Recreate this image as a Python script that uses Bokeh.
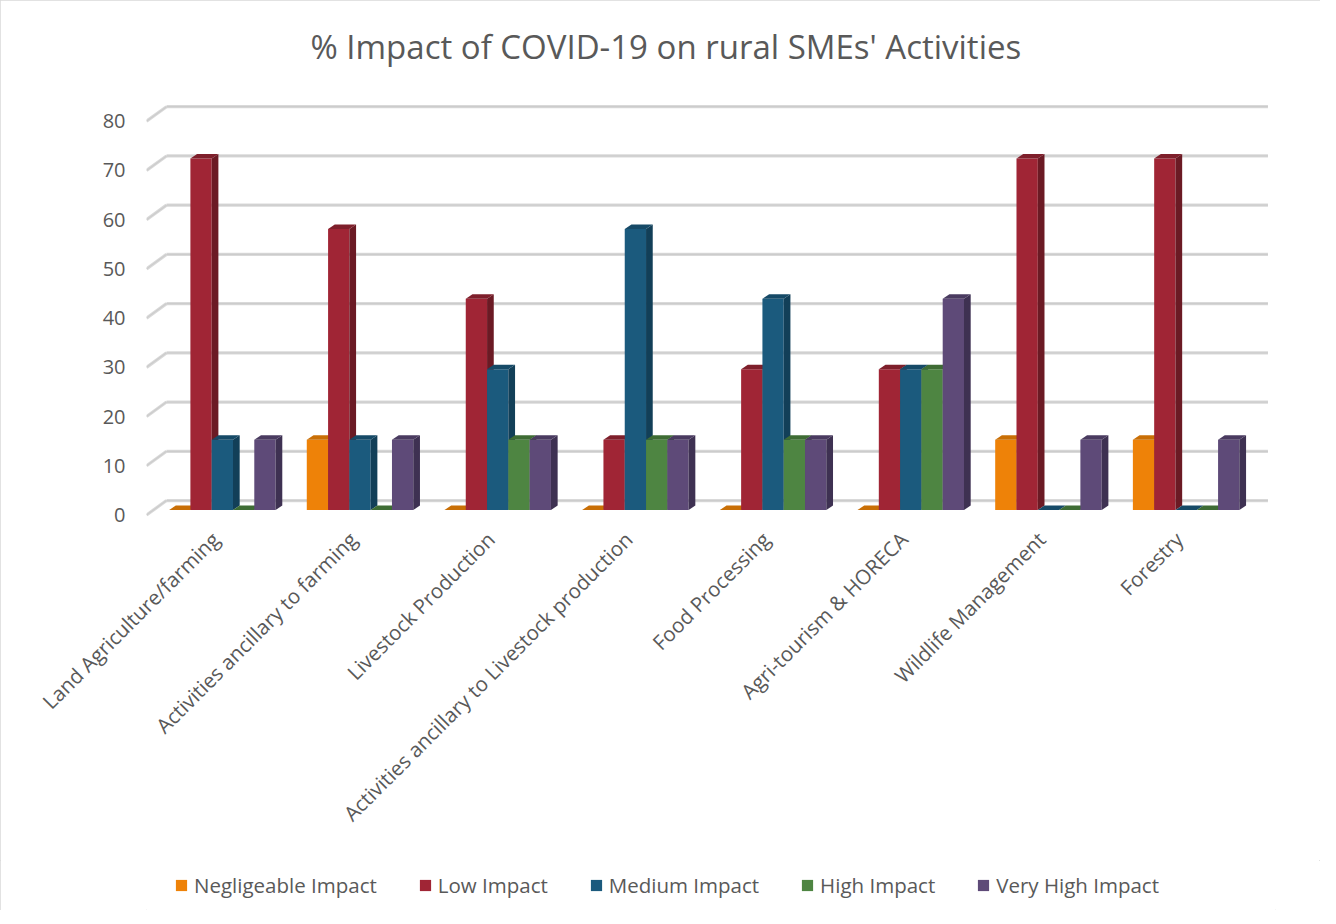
import math
from bokeh.plotting import figure
from bokeh.layouts import column
from bokeh.models import ColumnDataSource, FixedTicker, Legend, LegendItem, Range1d
from bokeh.embed import file_html
from bokeh.resources import INLINE

# ---------------- data ----------------
categories = [
    "Land Agriculture/farming",
    "Activities ancillary to farming",
    "Livestock Production",
    "Activities ancillary to Livestock production",
    "Food Processing",
    "Agri-tourism & HORECA",
    "Wildlife Management",
    "Forestry",
]
series_names = ["Negligeable Impact", "Low Impact", "Medium Impact", "High Impact", "Very High Impact"]
negligeable = [0, 14.3, 0, 0, 0, 0, 14.3, 14.3]
low = [71.4, 57.1, 42.9, 14.3, 28.6, 28.6, 71.4, 71.4]
medium = [14.3, 14.3, 28.6, 57.1, 42.9, 28.6, 0, 0]
high = [0, 0, 14.3, 14.3, 14.3, 28.6, 0, 0]
very_high = [14.3, 14.3, 14.3, 14.3, 14.3, 42.9, 14.3, 14.3]
y_ticks = [0, 10, 20, 30, 40, 50, 60, 70, 80]
title_text = "% Impact of COVID-19 on rural SMEs' Activities"

series_values = [negligeable, low, medium, high, very_high]
front_colors = ["#EE8208", "#A02535", "#1B5A7D", "#4E8542", "#5E4A78"]
side_colors = ["#B86306", "#6B1A24", "#123F58", "#35602C", "#3E3152"]
top_colors = ["#C96F06", "#7E1F2B", "#164A67", "#3E6C34", "#4A3B60"]

# ---------------- geometry (pixel -> data conversions) ----------------
PX_PER_CAT = 137.7
PX_PER_UNIT = 4.92
PX = 1.0 / PX_PER_CAT
PY = 1.0 / PX_PER_UNIT
BX, BY = 7 * PX, 5 * PY        # bar plane offset from front wall
DX, DY = 6.7 * PX, 4.5 * PY    # bar depth
GX, GY = 20 * PX, 14.5 * PY    # back wall offset
BW = 21.3 * PX                 # bar width
n_s = len(series_names)

W = 1320
H_MAIN, H_LEG = 860, 50
LEFT = 146
TOP = 88
X_START, X_END = 0.0, 8.2
Y_START = -0.5
Y_END = 84.0 + 13 / PX_PER_UNIT
frame_w = (X_END - X_START) * PX_PER_CAT
RIGHT = int(round(W - LEFT - frame_w))
frame_h = (Y_END - Y_START) * PX_PER_UNIT
BOTTOM = int(round(H_MAIN - TOP - frame_h))

p = figure(width=W, height=H_MAIN, output_backend="svg", toolbar_location=None,
           x_range=Range1d(X_START, X_END), y_range=Range1d(Y_START, Y_END),
           min_border_left=LEFT, min_border_right=RIGHT, min_border_top=TOP,
           min_border_bottom=BOTTOM)
p.outline_line_color = None
p.xgrid.visible = False
p.ygrid.visible = False
p.background_fill_color = "white"
p.border_fill_color = "white"

FONT = "Open Sans"
TXT = "#595959"

# title
p.title.text = title_text
p.title.align = "left"
p.title.text_font = FONT
p.title.text_font_size = "33px"
p.title.text_font_style = "normal"
p.title.text_color = TXT
p.title.standoff = 40
p.title.offset = 164

# gridlines (back wall + left diagonals)
n_cat = len(categories)
back_xs = [[GX, n_cat + GX] for _ in y_ticks]
back_ys = [[t + GY, t + GY] for t in y_ticks]
diag_xs = [[0, GX] for _ in y_ticks]
diag_ys = [[t, t + GY] for t in y_ticks]
p.multi_line(xs=back_xs + diag_xs, ys=back_ys + diag_ys, line_color="#D9D9D9", line_width=3.2)
p.multi_line(xs=back_xs + diag_xs, ys=back_ys + diag_ys, line_color="#CCCCCC", line_width=1.2)

# bars
for j, (name, vals) in enumerate(zip(series_names, series_values)):
    x0s, x1s, y0s, y1s = [], [], [], []
    side_xs, side_ys, top_xs, top_ys = [], [], [], []
    for i, v in enumerate(vals):
        x0 = i + 0.5 - n_s * BW / 2 + j * BW + BX
        x1 = x0 + BW
        y0 = BY
        y1 = v + BY
        x0s.append(x0); x1s.append(x1); y0s.append(y0); y1s.append(y1)
        side_xs.append([x1, x1 + DX, x1 + DX, x1])
        side_ys.append([y0, y0 + DY, y1 + DY, y1])
        top_xs.append([x0, x1, x1 + DX, x0 + DX])
        top_ys.append([y1, y1, y1 + DY, y1 + DY])
    src = ColumnDataSource(dict(left=x0s, right=x1s, bottom=y0s, top=y1s))
    p.quad(left="left", right="right", bottom="bottom", top="top", source=src,
           fill_color=front_colors[j], line_color=None)
    p.patches(xs=side_xs, ys=side_ys, fill_color=side_colors[j], line_color=None)
    p.patches(xs=top_xs, ys=top_ys, fill_color=top_colors[j], line_color=None)

# axes
p.yaxis.ticker = FixedTicker(ticks=y_ticks)
p.yaxis.axis_line_color = None
p.yaxis.major_tick_line_color = None
p.yaxis.minor_tick_line_color = None
p.yaxis.major_tick_out = 0
p.yaxis.major_tick_in = 0
p.yaxis.major_label_standoff = 21
p.yaxis.major_label_text_font = FONT
p.yaxis.major_label_text_font_size = "20px"
p.yaxis.major_label_text_color = TXT

tick_pos = [i + 0.5 for i in range(n_cat)]
p.xaxis.ticker = FixedTicker(ticks=tick_pos)
p.xaxis.major_label_overrides = {t: c for t, c in zip(tick_pos, categories)}
p.xaxis.axis_line_color = None
p.xaxis.major_tick_line_color = None
p.xaxis.minor_tick_line_color = None
p.xaxis.major_tick_out = 0
p.xaxis.major_tick_in = 0
p.xaxis.major_label_standoff = 18
p.xaxis.major_label_orientation = math.pi / 4
p.xaxis.major_label_text_font = FONT
p.xaxis.major_label_text_font_size = "20.5px"
p.xaxis.major_label_text_color = TXT

# legend strip (separate figure below the chart; its frame aligns with the chart's frame)
pl = figure(width=W, height=H_LEG, output_backend="svg", toolbar_location=None,
            x_range=Range1d(0, 1), y_range=Range1d(0, 1),
            x_axis_type=None, y_axis_type=None, min_border=0)
pl.outline_line_color = None
pl.background_fill_color = "white"
pl.border_fill_color = "white"
legend_items = []
for j, name in enumerate(series_names):
    # swatch renderer kept outside the visible range; only its legend glyph is shown
    r = pl.quad(left=[5], right=[6], bottom=[5], top=[6], fill_color=front_colors[j], line_color=None)
    legend_items.append(LegendItem(label=name, renderers=[r]))
legend = Legend(items=legend_items, orientation="horizontal", location=(174 - LEFT, 11))
legend.label_text_font = FONT
legend.label_text_font_size = "20.5px"
legend.label_text_color = TXT
legend.glyph_width = 14
legend.glyph_height = 14
legend.label_standoff = 6
legend.spacing = 41
legend.padding = 0
legend.margin = 0
legend.border_line_color = None
legend.background_fill_alpha = 0
pl.add_layout(legend)

layout = column(p, pl, spacing=0)
layout.styles = {"outline": "1px solid #D9D9D9", "outline-offset": "-1px"}

open("out.html", "w").write(file_html(layout, INLINE))
